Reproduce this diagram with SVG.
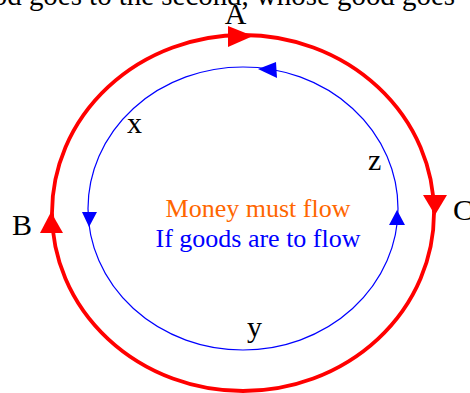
<svg xmlns="http://www.w3.org/2000/svg" width="470" height="393" viewBox="0 0 470 393">
<style>
text{font-family:"Liberation Serif","Times New Roman",serif;}
.lbl{font-size:30px;fill:#000;}
.red{fill:none;stroke:#FF0000;stroke-width:3.8;}
.blue{fill:none;stroke:#0000FF;stroke-width:1.2;}
.rh{fill:#FF0000;}
.bh{fill:#0000FF;}
</style>
<rect width="470" height="393" fill="#fff"/>
<text id="caption" x="455" y="5" text-anchor="end" style="font-size:28.9px" fill="#000">od goes to the second, whose good goes</text>
<g id="connectors">
<ellipse class="red" cx="243" cy="213" rx="191" ry="178"/>
<ellipse class="blue" cx="243" cy="208.5" rx="155" ry="141.5"/>
<polygon class="rh" points="253,36 228,26 228,47"/>
<polygon class="rh" points="435,215 423,195 447,195"/>
<polygon class="rh" points="51,212 40,233 63,233"/>
<polygon class="bh" points="258,69 276,62 277,78"/>
<polygon class="bh" points="89,227 82,212 97,212"/>
<polygon class="bh" points="397,210 389,225 405,225"/>
</g>
<g id="node-A"><text class="lbl" x="235.5" y="24" text-anchor="middle">A</text></g>
<g id="node-B"><text class="lbl" x="12" y="235">B</text></g>
<g id="node-C"><text class="lbl" x="453" y="220">C</text></g>
<g id="label-x"><text class="lbl" x="127" y="133">x</text></g>
<g id="label-y"><text class="lbl" x="247" y="337">y</text></g>
<g id="label-z"><text class="lbl" x="368" y="170">z</text></g>
<g id="center">
<text x="258" y="217" text-anchor="middle" style="font-size:26px" fill="#FF6600">Money must flow</text>
<text x="258" y="247" text-anchor="middle" style="font-size:26px" fill="#0000FF">If goods are to flow</text>
</g>
</svg>
